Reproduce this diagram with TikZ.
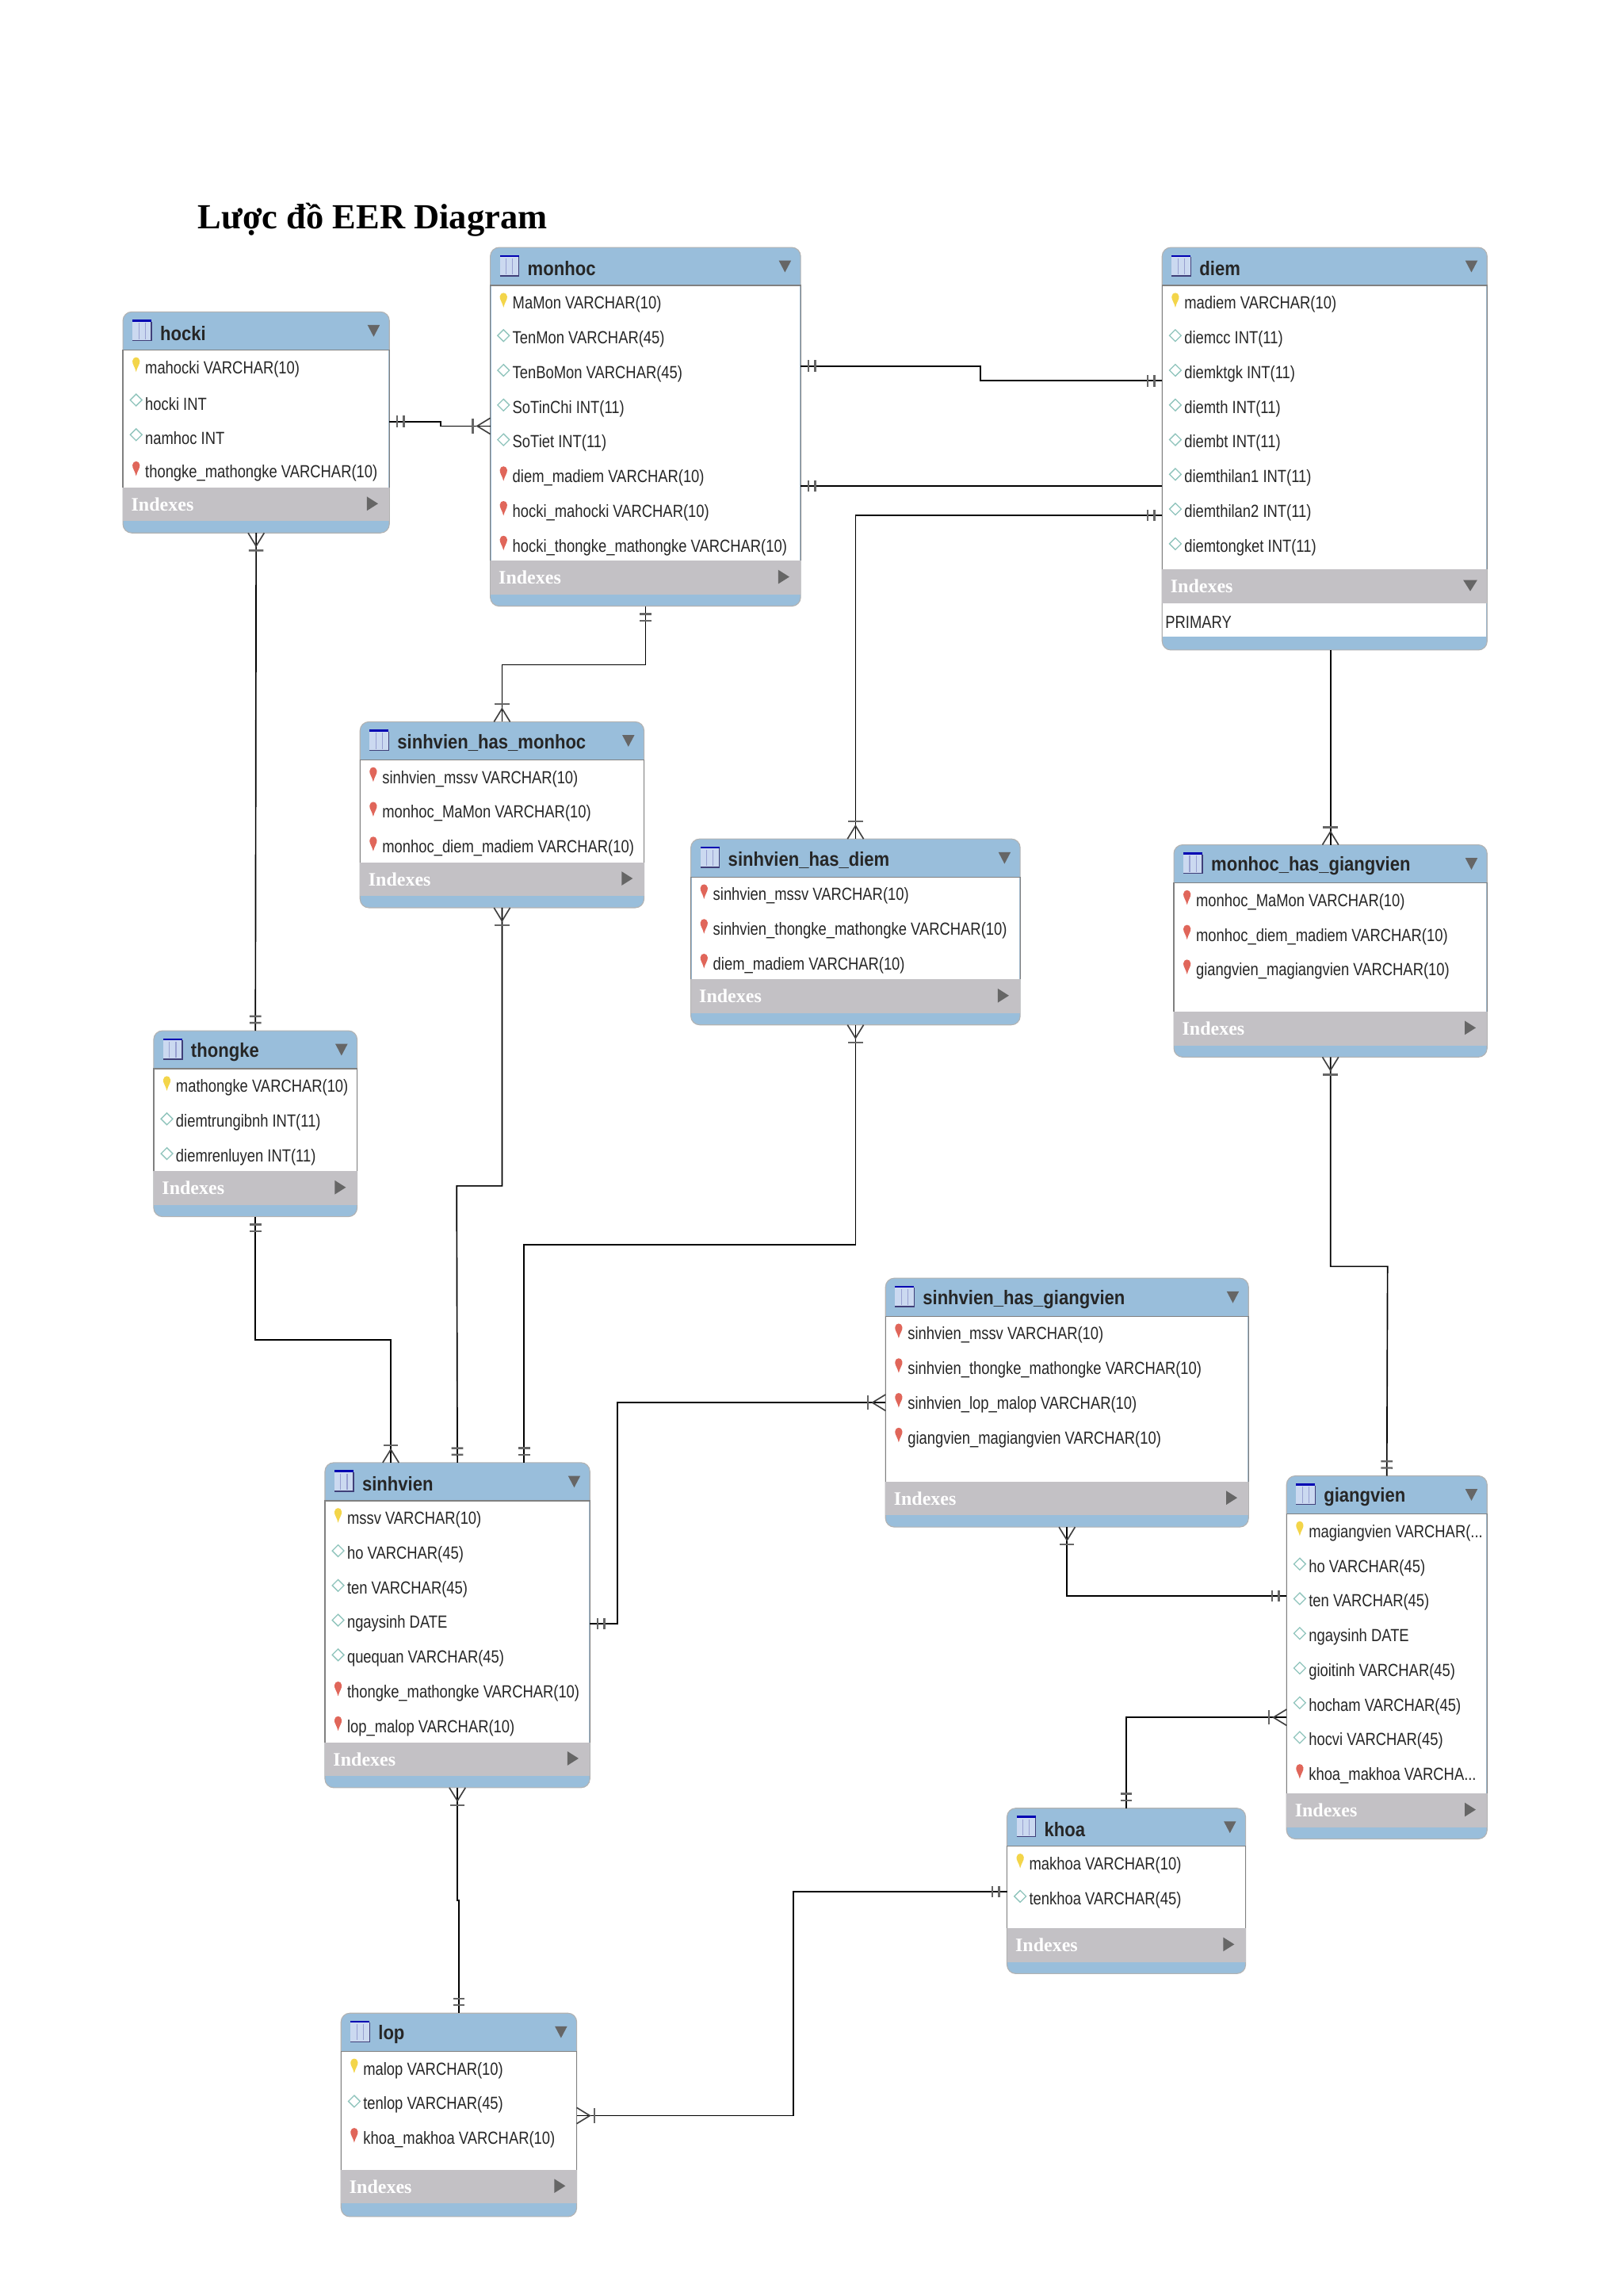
\documentclass[tikz,border=0pt]{standalone}
\usepackage{fontspec}
\setmainfont{Liberation Sans}
\newfontfamily\headfont{Liberation Serif}
\newfontfamily\rowfont[FakeStretch=0.83]{Liberation Sans}
\newfontfamily\namefont[FakeStretch=0.885]{Liberation Sans}
\usetikzlibrary{arrows.meta}

\definecolor{tableblue}{HTML}{99BEDB}
\definecolor{bandgray}{HTML}{C3C1C5}
\definecolor{markgray}{HTML}{666666}
\definecolor{pkyellow}{HTML}{F3D54A}
\definecolor{fkred}{HTML}{E0665A}
\definecolor{attrteal}{HTML}{8FC4BC}
\definecolor{iconblue}{HTML}{CBD9F0}

\newcommand{\cutoff}{.{}.{}.}

% er line ends, the line itself runs on up to the table
\pgfdeclarearrow{name=erone,
  setup code={\pgfarrowssetlineend{0pt}\pgfarrowssettipend{0pt}
    \pgfarrowssetbackend{-11pt}\pgfarrowssetvisualbackend{-11pt}
    \pgfarrowsupperhullpoint{-11pt}{4pt}\pgfarrowsupperhullpoint{0pt}{4pt}},
  drawing code={\pgfsetlinewidth{1.3pt}\pgfsetstrokecolor{black!60}
    \pgfpathmoveto{\pgfpoint{-5.4pt}{-4pt}}\pgfpathlineto{\pgfpoint{-5.4pt}{4pt}}
    \pgfpathmoveto{\pgfpoint{-9.9pt}{-4pt}}\pgfpathlineto{\pgfpoint{-9.9pt}{4pt}}
    \pgfusepathqstroke}}
\pgfdeclarearrow{name=ermany,
  setup code={\pgfarrowssetlineend{0pt}\pgfarrowssettipend{0pt}
    \pgfarrowssetbackend{-13pt}\pgfarrowssetvisualbackend{-13pt}
    \pgfarrowsupperhullpoint{-13pt}{5.5pt}\pgfarrowsupperhullpoint{0pt}{5.5pt}},
  drawing code={\pgfsetlinewidth{.9pt}\pgfsetstrokecolor{black!75}
    \pgfpathmoveto{\pgfpoint{0pt}{-5.5pt}}\pgfpathlineto{\pgfpoint{-9pt}{0pt}}
    \pgfpathlineto{\pgfpoint{0pt}{5.5pt}}\pgfusepathqstroke
    \pgfsetlinewidth{1.3pt}\pgfsetstrokecolor{black!60}
    \pgfpathmoveto{\pgfpoint{-12pt}{-5pt}}\pgfpathlineto{\pgfpoint{-12pt}{5pt}}
    \pgfusepathqstroke}}

\tikzset{
  dbbox/.style={draw=black!30,fill=tableblue,rounded corners=6pt,inner sep=0pt,outer sep=0pt,line width=.6pt},
  dbtitle/.style={anchor=west,inner sep=0pt,font=\namefont\bfseries\fontsize{13.5}{14}\selectfont,text=black!85},
  dbfield/.style={anchor=west,inner sep=0pt,font=\rowfont\fontsize{12}{13}\selectfont,text=black!85},
  dbband/.style={anchor=west,inner sep=0pt,font=\headfont\bfseries\fontsize{13}{14}\selectfont,text=white},
  link/.style={draw=black,line width=.9pt},
  pics/dbk/.style={code={\fill[pkyellow] (0,4.5) .. controls (-.8,1) and (-2.8,-1) .. (-2.5,-3) .. controls (-2.2,-6.3) and (2.2,-6.3) .. (2.5,-3) .. controls (2.8,-1) and (.8,1) .. (0,4.5) -- cycle;}},
  pics/dbf/.style={code={\fill[fkred] (0,4.5) .. controls (-.8,1) and (-2.8,-1) .. (-2.5,-3) .. controls (-2.2,-6.3) and (2.2,-6.3) .. (2.5,-3) .. controls (2.8,-1) and (.8,1) .. (0,4.5) -- cycle;}},
  pics/dba/.style={code={\draw[attrteal,fill=white,line width=.7pt] (0,-4) -- (4,0) -- (0,4) -- (-4,0) -- cycle;}},
  pics/dbicon/.style={code={
    \fill[iconblue] (-6.5,-7) rectangle (6.5,7);
    \foreach \gx in {-2.2,2.2} \draw[iconblue!80!blue!70!gray,line width=.6pt] (\gx,-5) -- (\gx,6);
    \fill[blue!70!black] (-6.5,-7.4) rectangle (6.5,-5.9);
    \draw[black!55!blue!50!gray,line width=.8pt] (-6.5,7) -- (6.5,7) -- (6.5,-5.9);}}
}

% name, left, top, right, bottom, top of the Indexes band, angle of its mark, title, fields
\newcommand{\dbtable}[9]{
  \node[dbbox,minimum width={#4-#2},minimum height={#5-#3}] (#1) at ({(#2+#4)/2},{(#3+#5)/2}) {};
  \fill[white] (#2+.5,#3+26) rectangle (#4-.5,#6);
  \draw[black!50,line width=.7pt] (#2,#6) -- (#2,#3+26) -- (#4,#3+26) -- (#4,#6);
  \fill[bandgray] (#2,#6) rectangle (#4,#6+23);
  \pic at (#2+13,#3+12.5) {dbicon};
  \node[dbtitle] (#1-title) at (#2+25.3,#3+14.5) {#8};
  \fill[markgray] (#4-10.7,#3+17) -- ++(-4.2,-8) -- ++(8.4,0) -- cycle;
  \node[dbband] (#1-indexes) at (#2+5.5,#6+11.5) {Indexes};
  \fill[markgray,shift={(#4-11.5,#6+11)},rotate=#7] (-3.8,-4.8) -- (3.8,0) -- (-3.8,4.8) -- cycle;
  \foreach \kind/\field [count=\i from 0] in {#9} {
    \pic at (#2+9,#3+36.5+23.7*\i) {db\kind};
    \node[dbfield] (#1-\i) at (#2+15,#3+39+23.7*\i) {\field};
  }
}

\begin{document}
\begin{tikzpicture}[x=1pt,y=-1pt]
\useasboundingbox (0,0) rectangle (1109,1568.2);

\node[anchor=west,inner sep=0pt,font=\headfont\bfseries\fontsize{24.1}{26}\selectfont] (title) at (135,150) {Lược đồ EER Diagram};

\dbtable{hocki}{84}{213}{266}{364}{333}{0}{hocki}{k/mahocki VARCHAR(10),a/hocki INT,a/namhoc INT,f/thongke\_mathongke VARCHAR(10)}
\dbtable{monhoc}{335}{169}{547}{414}{383}{0}{monhoc}{k/MaMon VARCHAR(10),a/TenMon VARCHAR(45),a/TenBoMon VARCHAR(45),a/SoTinChi INT(11),a/SoTiet INT(11),f/diem\_madiem VARCHAR(10),f/hocki\_mahocki VARCHAR(10),f/hocki\_thongke\_mathongke VARCHAR(10)}
\dbtable{diem}{794}{169}{1016}{444}{389}{-90}{diem}{k/madiem VARCHAR(10),a/diemcc INT(11),a/diemktgk INT(11),a/diemth INT(11),a/diembt INT(11),a/diemthilan1 INT(11),a/diemthilan2 INT(11),a/diemtongket INT(11)}
\fill[white] (794.5,412) rectangle (1015.5,435);
\node[dbfield,anchor=west] (diem-primary) at (796,425) {PRIMARY};
\dbtable{sinhvien_has_monhoc}{246}{493}{440}{620}{589}{0}{sinhvien\_has\_monhoc}{f/sinhvien\_mssv VARCHAR(10),f/monhoc\_MaMon VARCHAR(10),f/monhoc\_diem\_madiem VARCHAR(10)}
\dbtable{sinhvien_has_diem}{472}{573}{697}{700}{669}{0}{sinhvien\_has\_diem}{f/sinhvien\_mssv VARCHAR(10),f/sinhvien\_thongke\_mathongke VARCHAR(10),f/diem\_madiem VARCHAR(10)}
\dbtable{monhoc_has_giangvien}{802}{577}{1016}{722}{691}{0}{monhoc\_has\_giangvien}{f/monhoc\_MaMon VARCHAR(10),f/monhoc\_diem\_madiem VARCHAR(10),f/giangvien\_magiangvien VARCHAR(10)}
\dbtable{thongke}{105}{704}{244}{831}{800}{0}{thongke}{k/mathongke VARCHAR(10),a/diemtrungibnh INT(11),a/diemrenluyen INT(11)}
\dbtable{sinhvien_has_giangvien}{605}{873}{853}{1043}{1012}{0}{sinhvien\_has\_giangvien}{f/sinhvien\_mssv VARCHAR(10),f/sinhvien\_thongke\_mathongke VARCHAR(10),f/sinhvien\_lop\_malop VARCHAR(10),f/giangvien\_magiangvien VARCHAR(10)}
\dbtable{sinhvien}{222}{999}{403}{1221}{1190}{0}{sinhvien}{k/mssv VARCHAR(10),a/ho VARCHAR(45),a/ten VARCHAR(45),a/ngaysinh DATE,a/quequan VARCHAR(45),f/thongke\_mathongke VARCHAR(10),f/lop\_malop VARCHAR(10)}
\dbtable{giangvien}{879}{1008}{1016}{1256}{1225}{0}{giangvien}{k/magiangvien VARCHAR(\cutoff,a/ho VARCHAR(45),a/ten VARCHAR(45),a/ngaysinh DATE,a/gioitinh VARCHAR(45),a/hocham VARCHAR(45),a/hocvi VARCHAR(45),f/khoa\_makhoa VARCHA\cutoff}
\dbtable{khoa}{688}{1235}{851}{1348}{1317}{0}{khoa}{k/makhoa VARCHAR(10),a/tenkhoa VARCHAR(45)}
\dbtable{lop}{233}{1375}{394}{1514}{1482}{0}{lop}{k/malop VARCHAR(10),a/tenlop VARCHAR(45),f/khoa\_makhoa VARCHAR(10)}

\draw[link,erone-ermany] (hocki.east |- 0,288) -- (301,288) -- (301,291) -- (monhoc.west |- 0,291);
\draw[link,ermany-erone] (hocki.south) -- (thongke.north);
\draw[link,erone-erone] (monhoc.east |- 0,250) -- (670,250) -- (670,260) -- (diem.west |- 0,260);
\draw[link,erone-] (monhoc.east |- 0,332) -- (diem.west |- 0,332);
\draw[link,erone-ermany] (diem.west |- 0,352) -| (sinhvien_has_diem.north);
\draw[link,-ermany] (diem.south -| monhoc_has_giangvien.north) -- (monhoc_has_giangvien.north);
\draw[link,erone-ermany] (monhoc.south) |- (343,454) -- (sinhvien_has_monhoc.north);
\draw[link,ermany-erone] (sinhvien_has_monhoc.south) |- (312,810) -- (sinhvien.north);
\draw[link,ermany-erone] (sinhvien_has_diem.south) |- (358,850) -- (sinhvien.north -| 358,0);
\draw[link,erone-ermany] (thongke.south) |- (267,915) -- (sinhvien.north -| 267,0);
\draw[link,ermany-erone] (monhoc_has_giangvien.south) |- (948,865) -- (giangvien.north);
\draw[link,erone-ermany] (sinhvien.east |- 0,1109) -- (422,1109) |- (sinhvien_has_giangvien.west |- 0,958);
\draw[link,ermany-erone] (sinhvien_has_giangvien.south) |- (giangvien.west |- 0,1090);
\draw[link,ermany-erone] (giangvien.west |- 0,1173) -| (khoa.north);
\draw[link,ermany-erone] (sinhvien.south) -- (312.5,1298) -- (313.5,1298) -- (lop.north);
\draw[link,erone-ermany] (khoa.west |- 0,1292) -- (542,1292) |- (lop.east |- 0,1445);
\end{tikzpicture}
\end{document}
